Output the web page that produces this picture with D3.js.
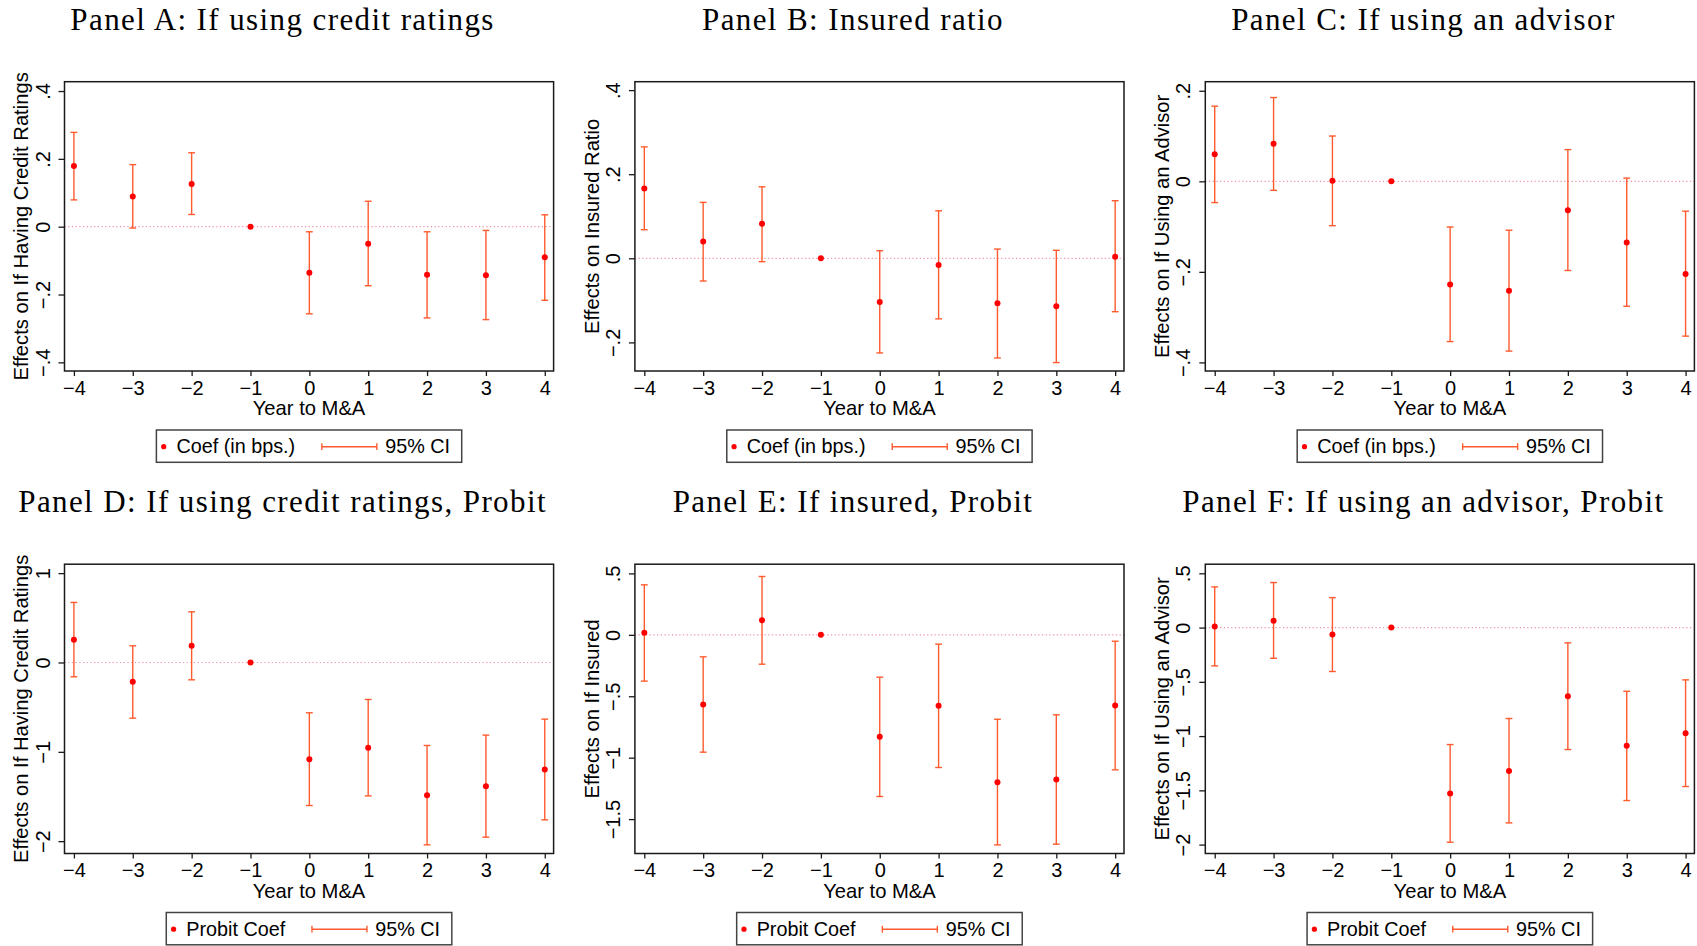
<!DOCTYPE html>
<html>
<head>
<meta charset="utf-8">
<script src="https://cdn.jsdelivr.net/npm/d3@7"></script>
<style>
  body { margin: 0; background: #fff; }
  svg { display: block; }
</style>
</head>
<body>
<svg id="chart"></svg>
<script>
// event-study coefficients around M&A, 6 panels

const years = [-4, -3, -2, -1, 0, 1, 2, 3, 4];

const panelTitles = [
    "Panel A: If using credit ratings",
    "Panel B: Insured ratio",
    "Panel C: If using an advisor",
    "Panel D: If using credit ratings, Probit",
    "Panel E: If insured, Probit",
    "Panel F: If using an advisor, Probit"
];
const yTitles = [
    "Effects on If Having Credit Ratings",
    "Effects on Insured Ratio",
    "Effects on If Using an Advisor",
    "Effects on If Having Credit Ratings",
    "Effects on If Insured",
    "Effects on If Using an Advisor"
];
const yTicks = [
    [-0.4, -0.2, 0, 0.2, 0.4],
    [-0.2, 0, 0.2, 0.4],
    [-0.4, -0.2, 0, 0.2],
    [-2, -1, 0, 1],
    [-1.5, -1, -0.5, 0, 0.5],
    [-2, -1.5, -1, -0.5, 0, 0.5]
];
const yDomains = [
    [-0.4255, 0.4275],
    [-0.268, 0.42],
    [-0.419, 0.22],
    [-2.138, 1.10],
    [-1.78, 0.575],
    [-2.082, 0.584]
];
const legendLabels = ["Coef (in bps.)", "Probit Coef"];
const ciLabel = "95% CI";

// coef / upper / lower (null = base year, no CI)
const coefA = [0.179, 0.089, 0.126, 0, -0.136, -0.050, -0.142, -0.143, -0.090];
const hiA   = [0.278, 0.183, 0.218, null, -0.015, 0.075, -0.015, -0.011, 0.035];
const loA   = [0.079, -0.004, 0.036, null, -0.257, -0.174, -0.269, -0.274, -0.217];

const coefB = [0.166, 0.040, 0.082, 0, -0.104, -0.016, -0.107, -0.114, 0.004];
const hiB   = [0.265, 0.133, 0.170, null, 0.018, 0.113, 0.022, 0.019, 0.137];
const loB   = [0.068, -0.054, -0.008, null, -0.225, -0.144, -0.237, -0.248, -0.127];

const coefC = [0.060, 0.083, 0.001, 0, -0.228, -0.242, -0.064, -0.135, -0.205];
const hiC   = [0.166, 0.185, 0.100, null, -0.101, -0.108, 0.070, 0.007, -0.066];
const loC   = [-0.047, -0.020, -0.098, null, -0.354, -0.375, -0.197, -0.276, -0.342];

const coefD = [0.254, -0.216, 0.187, 0, -1.082, -0.955, -1.485, -1.384, -1.198];
const hiD   = [0.672, 0.187, 0.567, null, -0.563, -0.414, -0.929, -0.813, -0.634];
const loD   = [-0.160, -0.623, -0.194, null, -1.601, -1.493, -2.041, -1.955, -1.761];

const coefE = [0.016, -0.567, 0.119, 0, -0.830, -0.578, -1.199, -1.178, -0.575];
const hiE   = [0.407, -0.179, 0.475, null, -0.345, -0.076, -0.687, -0.651, -0.052];
const loE   = [-0.377, -0.955, -0.239, null, -1.316, -1.080, -1.710, -1.704, -1.099];

const coefF = [0.009, 0.064, -0.064, 0, -1.529, -1.321, -0.633, -1.090, -0.974];
const hiF   = [0.375, 0.415, 0.276, null, -1.078, -0.838, -0.141, -0.587, -0.482];
const loF   = [-0.353, -0.283, -0.405, null, -1.978, -1.800, -1.124, -1.594, -1.465];

const coefs = [coefA, coefB, coefC, coefD, coefE, coefF];
const his = [hiA, hiB, hiC, hiD, hiE, hiF];
const los = [loA, loB, loC, loD, loE, loF];

const W = 1697, H = 946;
const colStep = 570.4, rowStep = 482.5;
const box = {left: 64.5, right: 553.6, top: 81.7, bottom: 371};

const ciColor = "#ff5b2e";
const dotColor = "#ff0000";
const sans = "'Liberation Sans', Arial, Helvetica, sans-serif";
const serif = "'Liberation Serif', 'Times New Roman', serif";

const svg = d3.select("#chart")
    .attr("width", W)
    .attr("height", H)
    .style("background", "#fff");

// stata-ish labels: .4, −.2, −1.5
function fmt(v) {
    if (v === 0) return "0";
    let s = String(Math.abs(v)).replace(/^0\./, ".");
    return (v < 0 ? "\u2212" : "") + s;
}

function drawPanel(i) {
    const col = i % 3, row = Math.floor(i / 3);
    const g = svg.append("g")
        .attr("transform", "translate(" + (col * colStep) + "," + (row * rowStep) + ")");

    const x = d3.scaleLinear().domain([-4.16, 4.15]).range([box.left, box.right]);
    const y = d3.scaleLinear().domain(yDomains[i]).range([box.bottom, box.top]);

    const data = years.map((yr, k) => ({year: yr, coef: coefs[i][k], hi: his[i][k], lo: los[i][k]}));

    // title
    g.append("text")
        .attr("x", 282.6)
        .attr("y", 29.5)
        .attr("text-anchor", "middle")
        .style("font-family", serif)
        .style("font-size", "31px")
        .style("letter-spacing", "1.4px")
        .style("fill", "#000")
        .text(panelTitles[i]);

    // zero reference line
    g.append("line")
        .attr("x1", box.left).attr("x2", box.right)
        .attr("y1", y(0)).attr("y2", y(0))
        .attr("stroke", "#ee8fa5")
        .attr("stroke-width", 1.2)
        .attr("stroke-dasharray", "1.2,2.5");

    // CI bars
    const ci = data.filter(d => d.hi !== null);
    const ciG = g.append("g").attr("stroke", ciColor).attr("stroke-width", 1.4);
    ciG.selectAll(".bar").data(ci).join("line")
        .attr("x1", d => x(d.year)).attr("x2", d => x(d.year))
        .attr("y1", d => y(d.hi)).attr("y2", d => y(d.lo));
    ciG.selectAll(".capHi").data(ci).join("line")
        .attr("x1", d => x(d.year) - 3.4).attr("x2", d => x(d.year) + 3.4)
        .attr("y1", d => y(d.hi)).attr("y2", d => y(d.hi));
    ciG.selectAll(".capLo").data(ci).join("line")
        .attr("x1", d => x(d.year) - 3.4).attr("x2", d => x(d.year) + 3.4)
        .attr("y1", d => y(d.lo)).attr("y2", d => y(d.lo));

    // points
    g.selectAll(".pt").data(data).join("circle")
        .attr("cx", d => x(d.year))
        .attr("cy", d => y(d.coef))
        .attr("r", 3)
        .attr("fill", dotColor);

    // plot region outline
    g.append("rect")
        .attr("x", box.left).attr("y", box.top)
        .attr("width", box.right - box.left)
        .attr("height", box.bottom - box.top)
        .attr("fill", "none")
        .attr("stroke", "#1a1a1a")
        .attr("stroke-width", 1.5);

    // y axis
    const yAx = g.append("g")
        .attr("transform", "translate(" + box.left + ",0)")
        .call(d3.axisLeft(y).tickValues(yTicks[i]).tickFormat(fmt).tickSize(6));
    yAx.select(".domain").remove();
    yAx.selectAll(".tick line").attr("stroke", "#1a1a1a").attr("stroke-width", 1.3);
    yAx.selectAll(".tick text")
        .attr("x", 0).attr("dy", 0)
        .attr("text-anchor", "middle")
        .attr("transform", "translate(-15,0) rotate(-90)")
        .style("font-family", sans)
        .style("font-size", "20px")
        .style("fill", "#000");

    // x axis
    const xAx = g.append("g")
        .attr("transform", "translate(0," + box.bottom + ")")
        .call(d3.axisBottom(x).tickValues(years).tickFormat(fmt).tickSize(5));
    xAx.select(".domain").remove();
    xAx.selectAll(".tick line").attr("stroke", "#1a1a1a").attr("stroke-width", 1.3);
    xAx.selectAll(".tick text")
        .attr("y", 23.5).attr("dy", 0)
        .style("font-family", sans)
        .style("font-size", "20px")
        .style("fill", "#000");

    // axis titles
    g.append("text")
        .attr("transform", "translate(28.3," + ((box.top + box.bottom) / 2) + ") rotate(-90)")
        .attr("text-anchor", "middle")
        .style("font-family", sans)
        .style("font-size", "20.2px")
        .style("fill", "#000")
        .text(yTitles[i]);

    g.append("text")
        .attr("x", (box.left + box.right) / 2)
        .attr("y", 415)
        .attr("text-anchor", "middle")
        .style("font-family", sans)
        .style("font-size", "20.2px")
        .style("fill", "#000")
        .text("Year to M&A");

    // legend
    const lg = g.append("g");
    const t1 = lg.append("text")
        .attr("y", 453.3)
        .style("font-family", sans)
        .style("font-size", "19.8px")
        .text(legendLabels[row]);
    const t2 = lg.append("text")
        .attr("y", 453.3)
        .style("font-family", sans)
        .style("font-size", "19.8px")
        .text(ciLabel);
    const w1 = t1.node().getComputedTextLength();
    const w2 = t2.node().getComputedTextLength();
    const boxW = 7.3 + 12.7 + w1 + 26.7 + 55 + 8.3 + w2 + 11.7;
    const bx = (box.left + box.right) / 2 - boxW / 2;
    const ly = 446.7;

    lg.insert("rect", "text")
        .attr("x", bx).attr("y", 430)
        .attr("width", boxW).attr("height", 32.3)
        .attr("fill", "#fff")
        .attr("stroke", "#444")
        .attr("stroke-width", 1.5);
    lg.append("circle")
        .attr("cx", bx + 7.3).attr("cy", ly).attr("r", 2.6)
        .attr("fill", dotColor);
    t1.attr("x", bx + 20);
    const lx = bx + 20 + w1 + 26.7;
    lg.append("line").attr("x1", lx).attr("x2", lx + 55).attr("y1", ly).attr("y2", ly)
        .attr("stroke", ciColor).attr("stroke-width", 1.4);
    lg.append("line").attr("x1", lx).attr("x2", lx).attr("y1", ly - 3.4).attr("y2", ly + 3.4)
        .attr("stroke", ciColor).attr("stroke-width", 1.4);
    lg.append("line").attr("x1", lx + 55).attr("x2", lx + 55).attr("y1", ly - 3.4).attr("y2", ly + 3.4)
        .attr("stroke", ciColor).attr("stroke-width", 1.4);
    t2.attr("x", lx + 55 + 8.3);
}

for (let i = 0; i < 6; i++) {
    drawPanel(i);
}
</script>
</body>
</html>
